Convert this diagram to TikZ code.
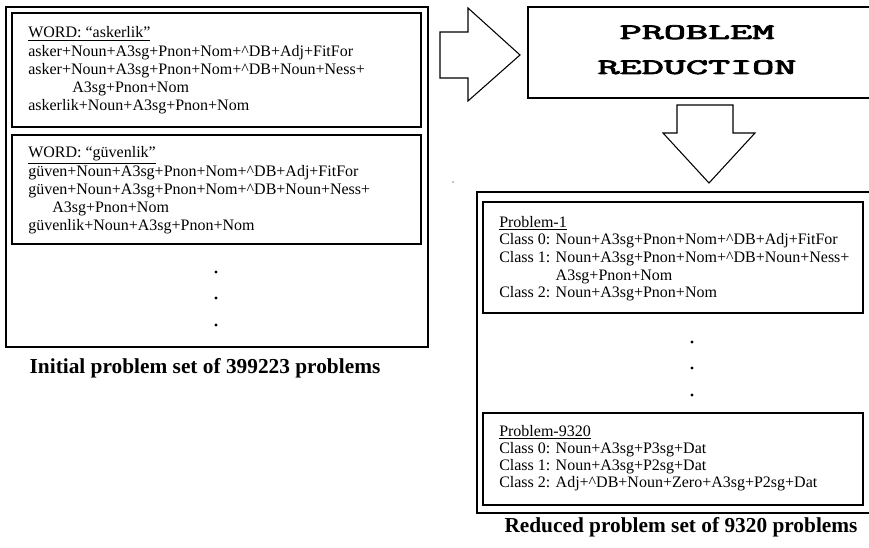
\documentclass[tikz,border=0pt]{standalone}
\usepackage{fontspec}
\usepackage{graphicx}
\setmainfont{Liberation Serif}
\newfontfamily\titlefont[FakeBold=3]{Latin Modern Mono}
\usetikzlibrary{positioning}

\begin{document}
\begin{tikzpicture}[x=0.75pt, y=-0.75pt,
    outerbox/.style={draw, line width=1.4pt},
    innerbox/.style={draw, line width=2pt},
    blockarrow/.style={draw, line width=0.8pt, fill=white, line join=miter},
    parse/.style={anchor=base west, align=left, inner sep=0pt, font=\fontsize{12}{13.7}\selectfont},
    caption/.style={anchor=base, inner sep=0pt, font=\fontsize{16}{19}\selectfont\bfseries},
    title/.style={anchor=base, inner sep=0pt, font=\titlefont\fontsize{16.5}{20}\selectfont},
    dot/.style={circle, fill, inner sep=0pt, minimum size=2.4pt}]
    \useasboundingbox (0,0) rectangle (869,548);
    \clip (0,0) rectangle (869,548);

    % Initial problem set
    \draw[outerbox] (6,7) rectangle (428,347);
    \draw[innerbox] (12,13) rectangle (421,127);
    \draw[innerbox] (12,135) rectangle (421,244);

    % base = last line
    \node[parse] (word1) at (28,111) {\underline{WORD: “askerlik”}\\
        asker+Noun+A3sg+Pnon+Nom+\textasciicircum DB+Adj+FitFor\\
        asker+Noun+A3sg+Pnon+Nom+\textasciicircum DB+Noun+Ness+\\
        \hspace*{33pt}A3sg+Pnon+Nom\\
        askerlik+Noun+A3sg+Pnon+Nom};
    \node[parse] (word2) at (28,231) {\underline{WORD: “güvenlik”}\\
        güven+Noun+A3sg+Pnon+Nom+\textasciicircum DB+Adj+FitFor\\
        güven+Noun+A3sg+Pnon+Nom+\textasciicircum DB+Noun+Ness+\\
        \hspace*{18pt}A3sg+Pnon+Nom\\
        güvenlik+Noun+A3sg+Pnon+Nom};

    \foreach \y [count=\i] in {272,298,325}
        \node[dot] (ldot\i) at (216,\y) {};

    \node[caption] (initcap) at (205,374) {Initial problem set of 399223 problems};

    % Problem reduction
    \draw[outerbox] (528,7) rectangle (880,98);
    \node[title] (reduction1) at (697,39) {\scalebox{1.95}[1]{PROBLEM}};
    \node[title] (reduction2) at (697,74) {\scalebox{1.95}[1]{REDUCTION}};

    % Arrows
    \draw[blockarrow] (440,32) -- (468,32) -- (468,8) -- (520,55) -- (468,101) -- (468,78) -- (440,78) -- cycle;
    \draw[blockarrow] (677,105) -- (733,105) -- (733,133) -- (755,133) -- (709,183) -- (663,133) -- (677,133) -- cycle;
    \fill (453,182) circle (0.7);

    % Reduced problem set
    \draw[outerbox] (477,192) rectangle (880,513);
    \draw[innerbox] (483,202) rectangle (863,313);
    \draw[innerbox] (483,413) rectangle (863,505);

    \node[parse, font=\fontsize{12}{13.3}\selectfont] (prob1) at (499,298) {\underline{Problem-1}\\
        Class 0: Noun+A3sg+Pnon+Nom+\textasciicircum DB+Adj+FitFor\\
        Class 1: Noun+A3sg+Pnon+Nom+\textasciicircum DB+Noun+Ness+\\
        \phantom{Class 1: }A3sg+Pnon+Nom\\
        Class 2: Noun+A3sg+Pnon+Nom};
    \node[parse, font=\fontsize{12}{12.9}\selectfont] (prob9320) at (499,488) {\underline{Problem-9320}\\
        Class 0: Noun+A3sg+P3sg+Dat\\
        Class 1: Noun+A3sg+P2sg+Dat\\
        Class 2: Adj+\textasciicircum DB+Noun+Zero+A3sg+P2sg+Dat};

    \foreach \y [count=\i] in {342,368,395}
        \node[dot] (rdot\i) at (692,\y) {};

    \node[caption] (redcap) at (681,533) {Reduced problem set of 9320 problems};
\end{tikzpicture}
\end{document}
